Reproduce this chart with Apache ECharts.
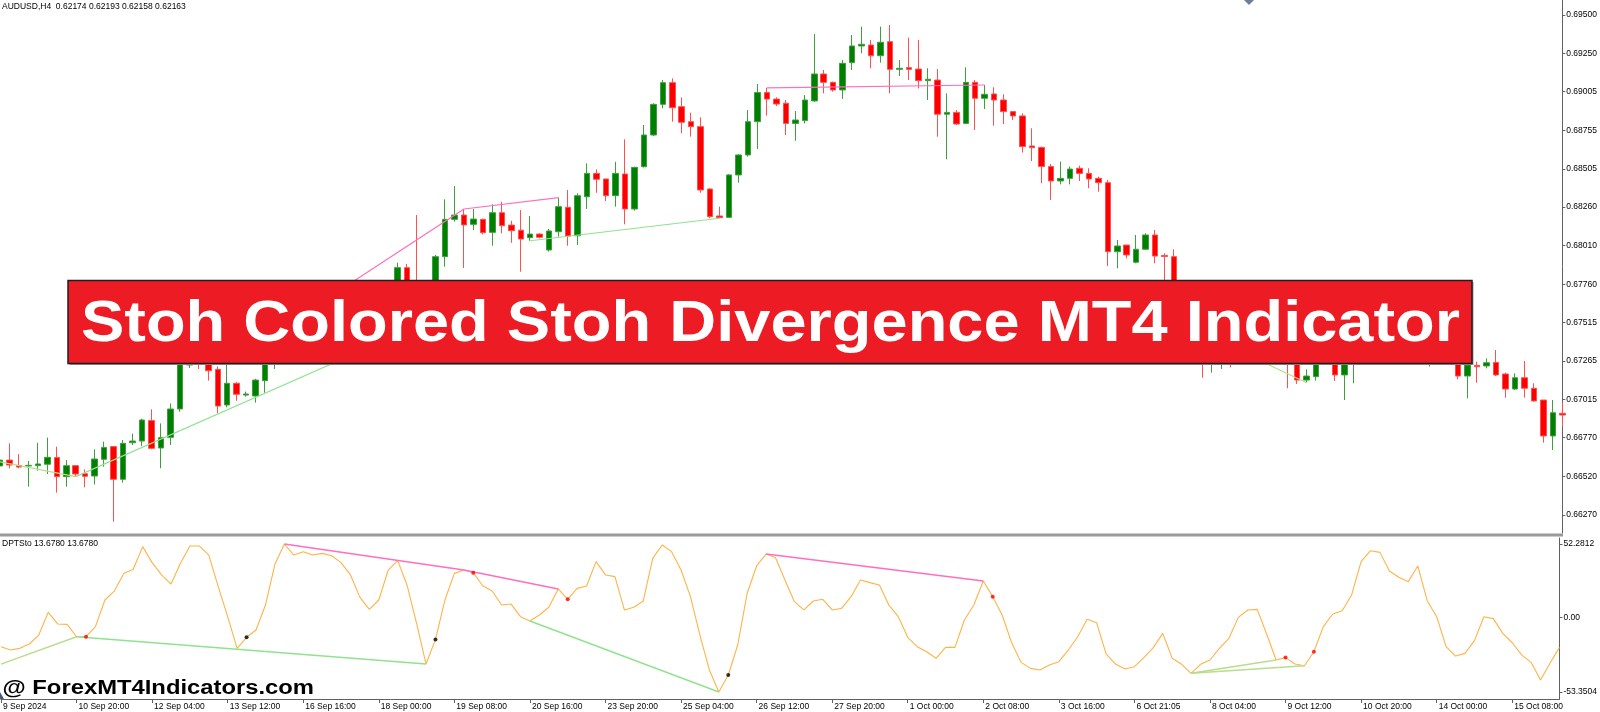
<!DOCTYPE html>
<html><head><meta charset="utf-8">
<script src="https://cdn.jsdelivr.net/npm/echarts@6/dist/echarts.min.js"></script>
<style>html,body{margin:0;padding:0;background:#fff;}#c{width:1600px;height:712px;}</style>
</head><body><div id="c"></div>
<script>
const timeLabels = ["9 Sep 2024","10 Sep 20:00","12 Sep 04:00","13 Sep 12:00","16 Sep 16:00","18 Sep 00:00","19 Sep 08:00","20 Sep 16:00","23 Sep 20:00","25 Sep 04:00","26 Sep 12:00","27 Sep 20:00","1 Oct 00:00","2 Oct 08:00","3 Oct 16:00","6 Oct 21:05","8 Oct 04:00","9 Oct 12:00","10 Oct 20:00","14 Oct 00:00","15 Oct 08:00"];
const barsPerLabel = 8;

const opens = [
0.66587,0.66625,0.66591,0.66587,0.66589,0.66598,0.66641,0.66518,0.66589,0.66537,
0.66522,0.66630,0.66712,0.66501,0.66737,0.66748,0.66880,0.66703,0.66772,0.66955,
0.67239,0.67330,0.67280,0.67211,0.66981,0.67121,0.67045,0.67039,0.67138,0.67290,
0.67420,0.67460,0.67410,0.67450,0.67425,0.67450,0.67420,0.67400,0.67380,0.67365,
0.67390,0.67520,0.67680,0.67868,0.67760,0.67600,0.67560,0.67939,0.68180,0.68208,
0.68148,0.68180,0.68096,0.68223,0.68143,0.68110,0.68062,0.68085,0.67982,0.68100,
0.68258,0.68074,0.68326,0.68477,0.68441,0.68333,0.68473,0.68247,0.68520,0.68725,
0.68923,0.69063,0.68908,0.68811,0.68779,0.68376,0.68202,0.68193,0.68467,0.68596,
0.68811,0.68999,0.68957,0.68930,0.68800,0.68818,0.68945,0.69119,0.69065,0.69016,
0.69192,0.69300,0.69306,0.69237,0.69328,0.69149,0.69160,0.69151,0.69076,0.69080,
0.68859,0.68871,0.68800,0.69065,0.68962,0.68990,0.68951,0.68876,0.68848,0.68654,
0.68645,0.68521,0.68428,0.68445,0.68510,0.68477,0.68445,0.68417,0.67971,0.68014,
0.67903,0.67987,0.68079,0.67947,0.67939,0.67600,0.67530,0.67540,0.67290,0.67330,
0.67380,0.67340,0.67450,0.67500,0.67470,0.67360,0.67300,0.67260,0.67142,0.67164,
0.67290,0.67330,0.67175,0.67300,0.67400,0.67580,0.67680,0.67640,0.67560,0.67530,
0.67510,0.67380,0.67420,0.67350,0.67290,0.67168,0.67237,0.67233,0.67256,0.67181,
0.67084,0.67157,0.67089,0.67013,0.66781,0.66927];
const highs = [
0.66679,0.66733,0.66664,0.66619,0.66737,0.66770,0.66712,0.66625,0.66593,0.66565,
0.66694,0.66744,0.66716,0.66755,0.66796,0.66892,0.66953,0.66862,0.66991,0.67290,
0.67350,0.67360,0.67300,0.67230,0.67239,0.67130,0.67067,0.67150,0.67330,0.67440,
0.67487,0.67480,0.67475,0.67470,0.67468,0.67462,0.67440,0.67415,0.67395,0.67410,
0.67540,0.67700,0.67900,0.67892,0.68208,0.67640,0.67950,0.68309,0.68395,0.68247,
0.68247,0.68185,0.68277,0.68294,0.68171,0.68240,0.68202,0.68090,0.68118,0.68320,
0.68370,0.68348,0.68542,0.68503,0.68441,0.68552,0.68697,0.68520,0.68790,0.68930,
0.69080,0.69091,0.68968,0.68869,0.68839,0.68381,0.68262,0.68473,0.68600,0.68886,
0.69054,0.69030,0.68968,0.68951,0.68880,0.68983,0.69377,0.69145,0.69070,0.69209,
0.69371,0.69425,0.69339,0.69425,0.69436,0.69209,0.69354,0.69339,0.69156,0.69151,
0.68994,0.68886,0.69162,0.69080,0.69048,0.69033,0.68988,0.68880,0.68865,0.68768,
0.68650,0.68538,0.68553,0.68521,0.68527,0.68510,0.68456,0.68434,0.68047,0.68014,
0.68079,0.68090,0.68111,0.67961,0.67986,0.67640,0.67600,0.67570,0.67350,0.67400,
0.67420,0.67480,0.67540,0.67540,0.67490,0.67380,0.67330,0.67280,0.67211,0.67320,
0.67380,0.67350,0.67330,0.67430,0.67600,0.67720,0.67730,0.67660,0.67590,0.67560,
0.67640,0.67460,0.67440,0.67370,0.67300,0.67265,0.67261,0.67282,0.67336,0.67190,
0.67185,0.67265,0.67121,0.67013,0.67013,0.66996];
const lows = [
0.66492,0.66572,0.66572,0.66453,0.66557,0.66535,0.66415,0.66453,0.66518,0.66449,
0.66468,0.66582,0.66227,0.66479,0.66722,0.66716,0.66694,0.66572,0.66722,0.66937,
0.67220,0.67213,0.67138,0.66927,0.66966,0.67008,0.67034,0.66996,0.67060,0.67213,
0.67380,0.67390,0.67395,0.67405,0.67410,0.67400,0.67385,0.67370,0.67350,0.67360,
0.67380,0.67500,0.67660,0.67720,0.67570,0.67515,0.67540,0.67874,0.68165,0.67866,
0.68111,0.68083,0.68010,0.68090,0.68029,0.67842,0.68042,0.68058,0.67972,0.68068,
0.68010,0.68014,0.68247,0.68352,0.68298,0.68262,0.68148,0.68236,0.68516,0.68718,
0.68897,0.68811,0.68736,0.68714,0.68352,0.68187,0.68187,0.68190,0.68417,0.68585,
0.68634,0.68850,0.68912,0.68725,0.68688,0.68800,0.68940,0.68994,0.69005,0.68958,
0.69145,0.69253,0.69156,0.69192,0.68994,0.69106,0.69080,0.69026,0.68951,0.68714,
0.68568,0.68790,0.68796,0.68757,0.68893,0.68785,0.68796,0.68822,0.68611,0.68557,
0.68413,0.68305,0.68406,0.68406,0.68428,0.68381,0.68359,0.67879,0.67864,0.67928,
0.67896,0.67982,0.67896,0.67787,0.67580,0.67500,0.67472,0.67157,0.67190,0.67213,
0.67224,0.67300,0.67420,0.67430,0.67330,0.67290,0.67089,0.67117,0.67125,0.67138,
0.67270,0.67136,0.67013,0.67121,0.67380,0.67560,0.67600,0.67530,0.67500,0.67480,
0.67490,0.67229,0.67300,0.67270,0.67147,0.67024,0.67125,0.67218,0.67168,0.67028,
0.67078,0.67028,0.67002,0.66738,0.66690,0.66841];
const closes = [
0.66625,0.66593,0.66580,0.66591,0.66600,0.66643,0.66518,0.66589,0.66535,0.66520,
0.66632,0.66707,0.66501,0.66733,0.66748,0.66884,0.66701,0.66770,0.66955,0.67260,
0.67300,0.67280,0.67202,0.66974,0.67121,0.67050,0.67052,0.67142,0.67300,0.67420,
0.67460,0.67410,0.67450,0.67425,0.67450,0.67420,0.67400,0.67380,0.67365,0.67390,
0.67520,0.67680,0.67868,0.67760,0.67600,0.67560,0.67939,0.68180,0.68208,0.68144,
0.68182,0.68094,0.68223,0.68139,0.68107,0.68053,0.68085,0.68064,0.68105,0.68262,
0.68072,0.68333,0.68477,0.68439,0.68333,0.68477,0.68247,0.68516,0.68725,0.68923,
0.69063,0.68901,0.68807,0.68779,0.68370,0.68197,0.68191,0.68467,0.68596,0.68811,
0.68999,0.68957,0.68925,0.68800,0.68822,0.68951,0.69119,0.69065,0.69016,0.69188,
0.69300,0.69311,0.69237,0.69324,0.69149,0.69156,0.69149,0.69076,0.69085,0.68859,
0.68871,0.68796,0.69065,0.68962,0.68988,0.68951,0.68876,0.68848,0.68650,0.68643,
0.68521,0.68428,0.68445,0.68505,0.68477,0.68441,0.68417,0.67971,0.68008,0.67950,
0.67987,0.68079,0.67943,0.67940,0.67600,0.67530,0.67560,0.67290,0.67330,0.67380,
0.67340,0.67450,0.67500,0.67470,0.67360,0.67300,0.67260,0.67142,0.67168,0.67290,
0.67330,0.67175,0.67300,0.67400,0.67580,0.67680,0.67640,0.67560,0.67530,0.67510,
0.67600,0.67420,0.67350,0.67290,0.67168,0.67239,0.67228,0.67254,0.67175,0.67084,
0.67157,0.67089,0.67007,0.66781,0.66931,0.66916];

const osc = [
-21.0,-23.4,-22.2,-19.1,-12.7,3.5,-4.8,-5.1,-13.9,-13.9,
-6.7,12.3,18.7,31.3,34.2,50.4,39.0,30.2,23.7,38.5,
50.9,50.9,44.4,21.8,0.4,-22.2,-14.3,-9.1,8.7,37.8,
52.28,44.4,46.8,44.4,45.6,43.9,39.0,30.2,14.2,5.6,
12.3,33.7,40.4,22.8,-4.3,-33.4,-15.8,12.3,31.3,33.7,
31.8,22.5,18.7,8.7,9.4,0.4,-2.7,1.6,7.1,20.2,
12.8,20.6,22.3,39.7,30.2,29.0,5.2,7.1,11.6,42.0,
51.6,46.8,33.7,14.7,-12.7,-37.7,-53.35,-41.2,-19.8,17.1,
36.6,45.1,42.5,26.6,11.1,5.2,11.6,12.8,5.2,6.4,
14.7,26.6,24.7,23.0,8.7,0.4,-14.3,-21.0,-24.6,-29.3,
-21.5,-21.5,-2.0,8.7,25.9,14.7,1.6,-18.2,-32.2,-36.5,
-37.7,-34.1,-31.7,-23.4,-13.9,-1.5,-3.9,-26.2,-33.4,-37.0,
-35.3,-28.8,-21.7,-11.5,-29.3,-33.6,-40.0,-33.6,-30.5,-22.2,
-15.1,-0.1,5.2,5.6,-12.0,-30.5,-28.8,-33.4,-34.6,-24.6,
-6.7,2.3,4.7,15.9,39.7,47.5,46.3,33.0,28.5,25.4,
36.6,11.8,0.4,-21.0,-27.7,-25.8,-16.7,0.4,-1.0,-11.5,
-18.2,-26.9,-32.2,-44.8,-32.9,-21.5];

const priceTicks = [0.69500,0.69250,0.69005,0.68755,0.68505,0.68260,0.68010,0.67760,0.67515,0.67265,0.67015,0.66770,0.66520,0.66270];
const oscTicks = [52.2812, 0, -53.3504];

// divergence segments: [barIndex, value]
const pricePinkSegs = [[[30,0.67487],[49,0.68247]], [[49,0.68247],[59,0.68320]], [[81,0.69030],[104,0.69048]]];
const priceGreenSegs = [[[8,0.66518],[45,0.67515]], [[56,0.68042],[76,0.68187]]];
const priceLightSegs = [[[0,0.66614],[8,0.66518]], [[126,0.67472],[135,0.67290]], [[126,0.67472],[138,0.67125]]];
const oscPinkSegs = [[[30,52.28],[49,33.7]], [[49,33.7],[59,20.2]], [[81,45.1],[104,25.9]]];
const oscGreenSegs = [[[8,-13.9],[45,-33.4]], [[56,-2.7],[76,-53.35]]];
const oscLightSegs = [[[0,-33.4],[8,-13.9]], [[126,-40.0],[135,-30.5]], [[126,-40.0],[138,-34.6]]];
const redDotBars = [9,50,60,105,136,139];
const blackDotBars = [26,46,77];

const FONT = '"Liberation Sans", Arial, sans-serif';
const cats = opens.map((_, i) => 'b' + i);
const candleData = opens.map((o, i) => [o, closes[i], lows[i], highs[i]]);

function segSeries(segs, color, xi, yi, width) {
  return segs.map(s => ({
    type: 'line', xAxisIndex: xi, yAxisIndex: yi, data: s, symbol: 'none',
    lineStyle: { color: color, width: width }, silent: true, z: 4, animation: false
  }));
}

const chart = echarts.init(document.getElementById('c'), null, { renderer: 'canvas' });
const option = {
  animation: false,
  backgroundColor: '#ffffff',
  grid: [
    { left: 0, top: 0, width: 1563, height: 533 },
    { left: 0, top: 538, width: 1563, height: 161 }
  ],
  xAxis: [
    { type: 'category', gridIndex: 0, data: cats, boundaryGap: false, show: false },
    { type: 'category', gridIndex: 1, data: cats, boundaryGap: false, position: 'bottom',
      axisLine: { show: true, onZero: false, lineStyle: { color: '#606060', width: 1 } },
      axisTick: { show: true, length: 4, interval: (i) => i % barsPerLabel === 0, lineStyle: { color: '#606060' } },
      axisLabel: { show: true, interval: (i) => i % barsPerLabel === 0, align: 'left', margin: 3,
        fontSize: 8.5, fontFamily: FONT, color: '#000', padding: [0, 0, 0, 2],
        formatter: (v, i) => (i % barsPerLabel === 0 && timeLabels[i / barsPerLabel]) ? timeLabels[i / barsPerLabel] : '' },
      splitLine: { show: false } }
  ],
  yAxis: [
    { type: 'value', gridIndex: 0, position: 'right', min: 0.66154, max: 0.69597, scale: true,
      splitLine: { show: false },
      axisLine: { show: true, onZero: false, lineStyle: { color: '#606060', width: 1 } },
      axisTick: { show: true, length: 3, customValues: priceTicks, lineStyle: { color: '#606060' } },
      axisLabel: { customValues: priceTicks, formatter: v => v.toFixed(5), fontSize: 8.5, fontFamily: FONT, color: '#000', margin: 4 } },
    { type: 'value', gridIndex: 1, position: 'right', min: -58.35, max: 56.56,
      splitLine: { show: false },
      axisLine: { show: true, onZero: false, lineStyle: { color: '#606060', width: 1 } },
      axisTick: { show: true, length: 3, customValues: oscTicks, lineStyle: { color: '#606060' } },
      axisLabel: { customValues: oscTicks, formatter: v => (v === 0 ? '0.00' : v.toFixed(4)), fontSize: 8.5, fontFamily: FONT, color: '#000', margin: 4 } }
  ],
  series: [
    { type: 'candlestick', xAxisIndex: 0, yAxisIndex: 0, data: candleData, barWidth: 6,
      itemStyle: { color: '#008000', color0: '#ff0000', borderColor: '#3f9f3f', borderColor0: '#ff4f4f', borderWidth: 1 }, z: 3 },
    ...segSeries(pricePinkSegs, '#ff6ebf', 0, 0, 1.2),
    ...segSeries(priceGreenSegs, '#8fe38f', 0, 0, 1.2),
    ...segSeries(priceLightSegs, '#b8dd8c', 0, 0, 1.2),
    { type: 'line', xAxisIndex: 1, yAxisIndex: 1, data: osc, symbol: 'none', lineStyle: { color: '#ffb347', width: 1.1 }, z: 3 },
    ...segSeries(oscPinkSegs, '#ff6ebf', 1, 1, 1.4),
    ...segSeries(oscGreenSegs, '#8fe38f', 1, 1, 1.4),
    ...segSeries(oscLightSegs, '#b8dd8c', 1, 1, 1.4),
    { type: 'scatter', xAxisIndex: 1, yAxisIndex: 1, data: redDotBars.map(i => [i, osc[i]]), symbolSize: 4, itemStyle: { color: '#ff0000' }, z: 6 },
    { type: 'scatter', xAxisIndex: 1, yAxisIndex: 1, data: blackDotBars.map(i => [i, osc[i]]), symbolSize: 4, itemStyle: { color: '#000000' }, z: 6 }
  ],
  graphic: [
    { type: 'text', z: 50, x: 2, y: 6.5, style: { text: 'AUDUSD,H4  0.62174 0.62193 0.62158 0.62163', fill: '#000', font: '8.5px ' + FONT, align: 'left', verticalAlign: 'middle' } },
    { type: 'text', z: 50, x: 2, y: 544, style: { text: 'DPTSto 13.6780 13.6780', fill: '#000', font: '8.5px ' + FONT, align: 'left', verticalAlign: 'middle' } },
    { type: 'rect', z: 50, shape: { x: 0, y: 533.5, width: 1563, height: 3 }, style: { fill: '#9a9a9a' } },
    { type: 'polygon', z: 50, shape: { points: [[1244, 0], [1254, 0], [1249, 5]] }, style: { fill: '#6b7d99' } },
    { type: 'polygon', z: 50, shape: { points: [[0, 692], [4, 699], [0, 699]] }, style: { fill: '#4a5a7a' } },
    { type: 'rect', z: 100, shape: { x: 69.5, y: 282, width: 1404, height: 83 }, style: { fill: '#9c9c9c' } },
    { type: 'rect', z: 101, shape: { x: 68, y: 280.5, width: 1404, height: 83 }, style: { fill: '#ed1c24', stroke: '#1e1e1e', lineWidth: 1.5 } },
    { type: 'text', z: 102, x: 770.5, y: 325, scaleX: 1.14, scaleY: 1,
      style: { text: 'Stoh Colored Stoh Divergence MT4 Indicator', fill: '#ffffff', font: 'bold 57px ' + FONT, align: 'center', verticalAlign: 'middle' } },
    { type: 'text', z: 102, x: 2.5, y: 688, scaleX: 1.19, scaleY: 1,
      style: { text: '@ ForexMT4Indicators.com', fill: '#000000', font: 'bold 20px ' + FONT, align: 'left', verticalAlign: 'middle' } }
  ]
};
chart.setOption(option);
</script></body></html>
